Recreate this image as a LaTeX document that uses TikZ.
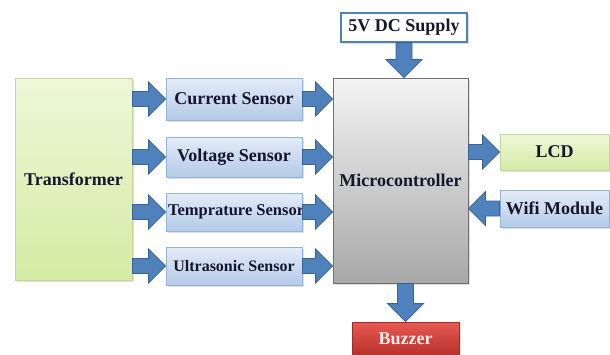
\documentclass[tikz,border=0pt]{standalone}
\usepackage{fontspec}
\setmainfont{Liberation Serif}
\usetikzlibrary{calc,shadows}
\definecolor{arrfill}{HTML}{4F81BD}
\definecolor{arrline}{HTML}{3A6394}
\definecolor{txt}{HTML}{16162E}
\definecolor{grtop}{HTML}{EEF7D8}
\definecolor{grbot}{HTML}{D4EBA4}
\definecolor{grline}{HTML}{C3D69B}
\definecolor{bltop}{HTML}{E4ECF7}
\definecolor{blbot}{HTML}{B4CAE8}
\definecolor{blline}{HTML}{95B3D7}
\definecolor{gytop}{HTML}{F4F4F4}
\definecolor{gybot}{HTML}{A8A8A8}
\definecolor{gyline}{HTML}{6F6F6F}
\definecolor{rdtop}{HTML}{E65A52}
\definecolor{rdbot}{HTML}{B8302A}
\definecolor{rdline}{HTML}{A52A25}
\tikzset{
  box/.style={rectangle, inner sep=0pt, text=txt,
    font=\fontsize{18}{21}\selectfont\bfseries,
    drop shadow={shadow xshift=1.5pt, shadow yshift=-1.5pt, opacity=0.25}},
  greenbox/.style={box, draw=grline, line width=0.8pt, top color=grtop, bottom color=grbot},
  bluebox/.style={box, draw=blline, line width=0.8pt, top color=bltop, bottom color=blbot},
  graybox/.style={box, draw=gyline, line width=0.8pt, top color=gytop, bottom color=gybot},
  redbox/.style={box, draw=rdline, line width=0.8pt, top color=rdtop, bottom color=rdbot, text=white!92!red},
  whitebox/.style={box, draw=arrfill, line width=1.2pt, fill=white},
  fatarr/.style={fill=arrfill, draw=arrline, line width=0.8pt, line join=miter}
}
\newcommand\harrow[2]{%
  \draw[fatarr] let \p1=(#1), \p2=(#2), \n1={sign(\x2-\x1)*17} in
    (\x1,\y1+7.5pt) -- (\x2-\n1,\y1+7.5pt) -- (\x2-\n1,\y1+17pt) -- (\x2,\y1)
    -- (\x2-\n1,\y1-17pt) -- (\x2-\n1,\y1-7.5pt) -- (\x1,\y1-7.5pt) -- cycle;}
\newcommand\varrow[2]{%
  \draw[fatarr] let \p1=(#1), \p2=(#2), \n1={sign(\y2-\y1)*18} in
    (\x1+8pt,\y1) -- (\x1+8pt,\y2-\n1) -- (\x1+18pt,\y2-\n1) -- (\x1,\y2)
    -- (\x1-18pt,\y2-\n1) -- (\x1-8pt,\y2-\n1) -- (\x1-8pt,\y1) -- cycle;}
\begin{document}
\begin{tikzpicture}[x=1pt,y=-1pt]
\useasboundingbox (0,0) rectangle (610,354);
\node[greenbox, minimum width=117pt, minimum height=202pt] (trans) at (73.5,179) {Transformer};
\node[bluebox, minimum width=136pt, minimum height=42pt] (cur) at (234,99) {Current Sensor};
\node[bluebox, minimum width=136pt, minimum height=40pt] (volt) at (234,157) {Voltage Sensor};
\node[bluebox, minimum width=136pt, minimum height=38pt] (temp) at (234,212) {\makebox[134pt][l]{\hspace*{1pt}\fontsize{16.5}{20}\selectfont Temprature Sensor}};
\node[bluebox, minimum width=136pt, minimum height=38pt] (ultra) at (234,266) {\fontsize{16}{19}\selectfont Ultrasonic Sensor};
\node[graybox, minimum width=135pt, minimum height=205pt] (mc) at (400.5,180.5) {Microcontroller};
\node[whitebox, minimum width=126pt, minimum height=29pt] (dc) at (404,27.5) {5V DC Supply};
\node[greenbox, minimum width=109pt, minimum height=36pt] (lcd) at (554.5,152) {LCD};
\node[bluebox, minimum width=109pt, minimum height=37pt] (wifi) at (554.5,208.5) {Wifi Module};
\node[redbox, minimum width=107pt, minimum height=34pt] (buz) at (405.5,339) {Buzzer};
\foreach \s in {cur,volt,temp,ultra}{
  \harrow{trans.east |- \s.west}{\s.west}
  \harrow{\s.east}{mc.west |- \s.east}
}
\varrow{dc.south}{mc.north -| dc.south}
\harrow{mc.east |- lcd.west}{lcd.west}
\harrow{wifi.west}{mc.east |- wifi.west}
\varrow{mc.south -| buz.north}{buz.north}
\end{tikzpicture}
\end{document}
